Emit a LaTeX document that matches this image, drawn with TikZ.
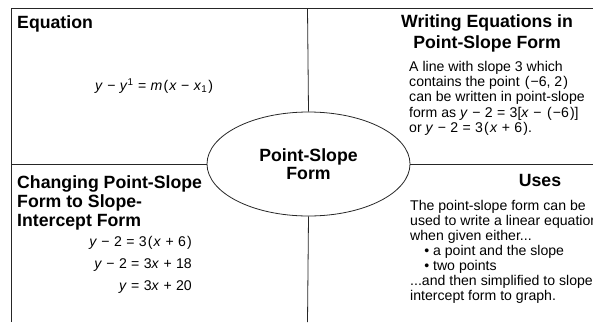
\documentclass[tikz,border=0pt]{standalone}
\usepackage{fontspec}
\setmainfont{Liberation Sans}
\usetikzlibrary{shapes.geometric}

\newcommand{\vr}[1]{\textit{#1}}
\newcommand{\op}[1]{\hspace{0.31em}#1\hspace{0.31em}}
\newcommand{\lp}{\hspace{0.08em}(\hspace{0.08em}}
\newcommand{\rp}{\hspace{0.08em})}

\tikzset{
  frame/.style={line width=0.8pt, draw=black!85},
  head/.style={font=\bfseries\fontsize{17.7}{21}\selectfont, inner sep=0pt},
  body/.style={font=\fontsize{14.1}{15.2}\selectfont, align=left, inner sep=0pt},
  core/.style={ellipse, frame, minimum width=203pt, minimum height=104pt,
    inner sep=0pt, align=center, font=\bfseries\fontsize{17.7}{18.5}\selectfont}
}

\begin{document}
\begin{tikzpicture}[x=1pt, y=-1pt]
\useasboundingbox (0,0) rectangle (593,322);

% frame and quadrants
\coordinate (TL) at (11.5,8.5);
\coordinate (TR) at (593,8.5);
\coordinate (BL) at (11.5,322);
\coordinate (Ttop) at (307.5,8.5);
\coordinate (Tbot) at (307.5,322);
\coordinate (Lmid) at (11.5,164);
\coordinate (Rmid) at (593,164);

\draw[frame] (BL) -- (TL) -- (TR);

\node[core] (hub) at (308.5,164) {Point-Slope\\Form};

\draw[frame] (Ttop) -- (hub.north);
\draw[frame] (hub.south) -- (Tbot);
\draw[frame] (Lmid) -- (hub.west);
\draw[frame] (hub.east) -- (Rmid);

% top left
\node[head, anchor=base west] (eqhead) at (17,28.3) {Equation};
\node[body, anchor=base west] (eq) at (95,90.7)
  {\vr{y}\op{−}\vr{y}\textsuperscript{1}\op{=}\vr{m}\lp\vr{x}\op{−}\vr{x}\textsubscript{1}\rp};

% top right
\node[head, align=center, anchor=north] (wrhead) at (487,14.5)
  {Writing Equations in\\Point-Slope Form};
\node[body, anchor=north west] (wrbody) at (409,61)
  {A line with slope 3 which\\
   contains the point \lp−6, 2\rp\\
   can be written in point-slope\\
   form as \vr{y}\op{−}2\op{=}3[\vr{x}\op{−}\lp−6\rp]\\
   or \vr{y}\op{−}2\op{=}3\lp\vr{x}\op{+}6\rp.};

% bottom left
\node[head, align=left, anchor=north west,
  font=\bfseries\fontsize{17.7}{19}\selectfont] (chhead) at (17,175)
  {Changing Point-Slope\\Form to Slope-\\Intercept Form};
\node[body, align=right, anchor=north east,
  font=\fontsize{14.1}{22}\selectfont] (chbody) at (192,236.5)
  {\vr{y}\op{−}2\op{=}3\lp\vr{x}\op{+}6\rp\\
   \vr{y}\op{−}2\op{=}3\vr{x}\op{+}18\\
   \vr{y}\op{=}3\vr{x}\op{+}20};

% bottom right
\node[head, anchor=base] (usehead) at (540,186.7) {Uses};
\node[body, anchor=north west, font=\fontsize{14.1}{15}\selectfont] (usebody) at (410,200)
  {The point-slope form can be\\
   used to write a linear equation\\
   when given either...\\
   \hspace*{1em}• a point and the slope\\
   \hspace*{1em}• two points\\
   ...and then simplified to slope-\\
   intercept form to graph.};
\end{tikzpicture}
\end{document}
